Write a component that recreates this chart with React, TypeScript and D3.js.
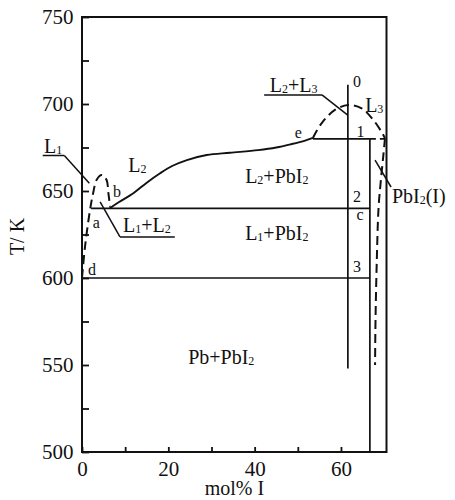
import React, { useEffect, useRef } from "react";
import * as d3 from "d3";

// axis values
const yTicks = [500, 525, 550, 575, 600, 625, 650, 675, 700, 725, 750];
const yLabels = [500, 550, 600, 650, 700, 750];
const xTicks = [0, 10, 20, 30, 40, 50, 60];
const xLabels = [0, 20, 40, 60];

// phase boundaries, [mol% I, T/K]
const leftDome: [number, number][] = [
  [0, 600], [0.7, 618], [1.85, 639], [2.6, 649], [3.4, 656.5],
  [4.6, 659.2], [5.7, 656.3], [6.1, 649], [6.5, 641],
];
const liquidusL2: [number, number][] = [
  [6.4, 640], [8.5, 643.5], [11.9, 648.7], [15, 654.8], [18.1, 660.2],
  [21, 664.5], [24.3, 667.8], [28.9, 670.7], [34.3, 672], [40.8, 673.5],
  [45, 675], [48.6, 677], [51.7, 679], [53.5, 680.5],
];
const domeL3: [number, number][] = [
  [53.5, 680.5], [55.5, 688.9], [58.6, 696.6], [61.7, 699.4],
  [64.8, 697.5], [67.5, 690.8], [69.4, 684], [70.2, 680.3],
];
const solvusPbI2: [number, number][] = [
  [70.2, 680.3], [69.8, 670], [69.2, 655], [68.7, 640], [68.3, 610],
  [68.0, 575], [67.9, 550],
];

// isotherms and verticals
const tieLines = [
  { T: 640, x0: 2.1, x1: 66.7 },
  { T: 600, x0: 0, x1: 66.7 },
  { T: 680, x0: 53.5, x1: 66.7 },
];
const dashedTie = { T: 680, x0: 66.7, x1: 70.2 };
const verticals = [
  { x: 66.7, T0: 500, T1: 680 },
  { x: 61.6, T0: 548, T1: 711 },
];

// region names and point letters, "_n" = subscript
const regionLabels = [
  { text: "L_2", x: 10.7, T: 661 },
  { text: "L_2+PbI_2", x: 37.8, T: 654.6 },
  { text: "L_1+PbI_2", x: 37.8, T: 621.8 },
  { text: "Pb+PbI_2", x: 24.6, T: 550.6 },
  { text: "L_3", x: 65.6, T: 695.4 },
];
const pointLabels = [
  { text: "a", x: 2.5, T: 628.7 },
  { text: "b", x: 7.2, T: 646.6 },
  { text: "d", x: 1.4, T: 601.7 },
  { text: "e", x: 49.3, T: 680.5 },
  { text: "0", x: 62.8, T: 709.8 },
  { text: "1", x: 63.6, T: 681 },
  { text: "2", x: 62.8, T: 643.5 },
  { text: "c", x: 63.6, T: 633.6 },
  { text: "3", x: 62.8, T: 603.5 },
];
// callouts: text, underline (optional) and leader line
const callouts = [
  { text: "L_1", x: -8.8, T: 671.8, ul: [-9.1, -4.1, 670.4], lead: [[-4.1, 670.4], [1.7, 654.4]] },
  { text: "L_1+L_2", x: 9.5, T: 626.4, ul: [8.8, 21.5, 623.6], lead: [[4.2, 643.7], [8.8, 623.6]] },
  { text: "L_2+L_3", x: 43.5, T: 707, ul: [42.2, 55.6, 705.2], lead: [[55.6, 705.2], [61.5, 693.7]] },
  { text: "PbI_2(I)", x: 71.8, T: 643.1, ul: null, lead: [[67.9, 667.8], [71.6, 652.3]] },
];

const FONT = "'Liberation Serif', 'Times New Roman', serif";

const rich = (sel: d3.Selection<SVGTextElement, unknown, null, undefined>, s: string) => {
  const parts = s.split(/_(\d)/);
  parts.forEach((p, i) => {
    if (!p) return;
    if (i % 2 === 1) {
      sel.append("tspan").attr("font-size", "0.6em").attr("dy", 1).text(p);
    } else {
      sel.append("tspan").attr("dy", i > 0 ? -1 : 0).text(p);
    }
  });
};

const App: React.FC = () => {
  const ref = useRef<SVGSVGElement | null>(null);

  useEffect(() => {
    const width = 455;
    const height = 500;
    const margin = { top: 17, right: 68.5, bottom: 48, left: 82 };

    const x = d3.scaleLinear().domain([0, 70.55]).range([margin.left, width - margin.right]);
    const y = d3.scaleLinear().domain([500, 750]).range([height - margin.bottom, margin.top]);

    const svg = d3.select(ref.current);
    svg.selectAll("*").remove();
    svg.attr("font-family", FONT);

    // frame
    svg.append("rect")
      .attr("x", x(0)).attr("y", y(750))
      .attr("width", x(70.55) - x(0)).attr("height", y(500) - y(750))
      .attr("fill", "none").attr("stroke", "#111").attr("stroke-width", 2);

    const yAxis = d3.axisLeft(y)
      .tickValues(yTicks)
      .tickSize(-7)
      .tickSizeOuter(0)
      .tickPadding(8.5)
      .tickFormat((d) => (yLabels.includes(+d) ? String(d) : ""));
    const gy = svg.append("g").attr("transform", `translate(${x(0)},0)`).call(yAxis);
    gy.select(".domain").remove();
    gy.selectAll("line").attr("stroke", "#111").attr("stroke-width", 1.8);
    gy.selectAll("text").attr("font-size", 21).attr("font-family", FONT).attr("fill", "#111");

    const xAxis = d3.axisBottom(x)
      .tickValues(xTicks)
      .tickSize(-5)
      .tickSizeOuter(0)
      .tickPadding(9)
      .tickFormat((d) => (xLabels.includes(+d) ? String(d) : ""));
    const gx = svg.append("g").attr("transform", `translate(0,${y(500)})`).call(xAxis);
    gx.select(".domain").remove();
    gx.selectAll("line").attr("stroke", "#111").attr("stroke-width", 1.8);
    gx.selectAll("text").attr("font-size", 21).attr("font-family", FONT).attr("fill", "#111");

    // axis titles
    svg.append("text")
      .attr("transform", `translate(23.5,${(y(500) + y(750)) / 2 + 2}) rotate(-90)`)
      .attr("text-anchor", "middle")
      .attr("font-size", 20)
      .attr("fill", "#111")
      .text("T/ K");
    svg.append("text")
      .attr("x", x(35.3)).attr("y", 495)
      .attr("text-anchor", "middle")
      .attr("font-size", 20)
      .attr("fill", "#111")
      .text("mol% I");

    const g = svg.append("g").attr("fill", "none").attr("stroke", "#111");

    tieLines.forEach((t) => {
      g.append("line")
        .attr("x1", x(t.x0)).attr("x2", x(t.x1))
        .attr("y1", y(t.T)).attr("y2", y(t.T))
        .attr("stroke-width", 1.7);
    });
    g.append("line")
      .attr("x1", x(dashedTie.x0)).attr("x2", x(dashedTie.x1))
      .attr("y1", y(dashedTie.T)).attr("y2", y(dashedTie.T))
      .attr("stroke-width", 1.7).attr("stroke-dasharray", "6,4");
    verticals.forEach((v) => {
      g.append("line")
        .attr("x1", x(v.x)).attr("x2", x(v.x))
        .attr("y1", y(v.T0)).attr("y2", y(v.T1))
        .attr("stroke-width", 1.7);
    });

    const smooth = d3.line<[number, number]>()
      .x((d) => x(d[0])).y((d) => y(d[1]))
      .curve(d3.curveCatmullRom.alpha(0.5));

    g.append("path").attr("d", smooth(liquidusL2)).attr("stroke-width", 1.9);
    [leftDome, domeL3, solvusPbI2].forEach((c) => {
      g.append("path").attr("d", smooth(c)).attr("stroke-width", 2).attr("stroke-dasharray", "9,5");
    });

    // callouts
    callouts.forEach((c) => {
      const t = svg.append("text")
        .attr("x", x(c.x)).attr("y", y(c.T))
        .attr("font-size", 20).attr("fill", "#111");
      rich(t, c.text);
      if (c.ul) {
        g.append("line")
          .attr("x1", x(c.ul[0])).attr("x2", x(c.ul[1]))
          .attr("y1", y(c.ul[2])).attr("y2", y(c.ul[2]))
          .attr("stroke-width", 1.5);
      }
      g.append("line")
        .attr("x1", x(c.lead[0][0])).attr("y1", y(c.lead[0][1]))
        .attr("x2", x(c.lead[1][0])).attr("y2", y(c.lead[1][1]))
        .attr("stroke-width", 1.5);
    });

    regionLabels.forEach((r) => {
      const t = svg.append("text")
        .attr("x", x(r.x)).attr("y", y(r.T))
        .attr("font-size", 20).attr("fill", "#111");
      rich(t, r.text);
    });

    pointLabels.forEach((p) => {
      svg.append("text")
        .attr("x", x(p.x)).attr("y", y(p.T))
        .attr("font-size", 16).attr("fill", "#111")
        .text(p.text);
    });
  }, []);

  return (
    <svg
      ref={ref}
      width={455}
      height={500}
      style={{ position: "absolute", left: 0, top: 0, background: "#fff" }}
    />
  );
};

export default App;
